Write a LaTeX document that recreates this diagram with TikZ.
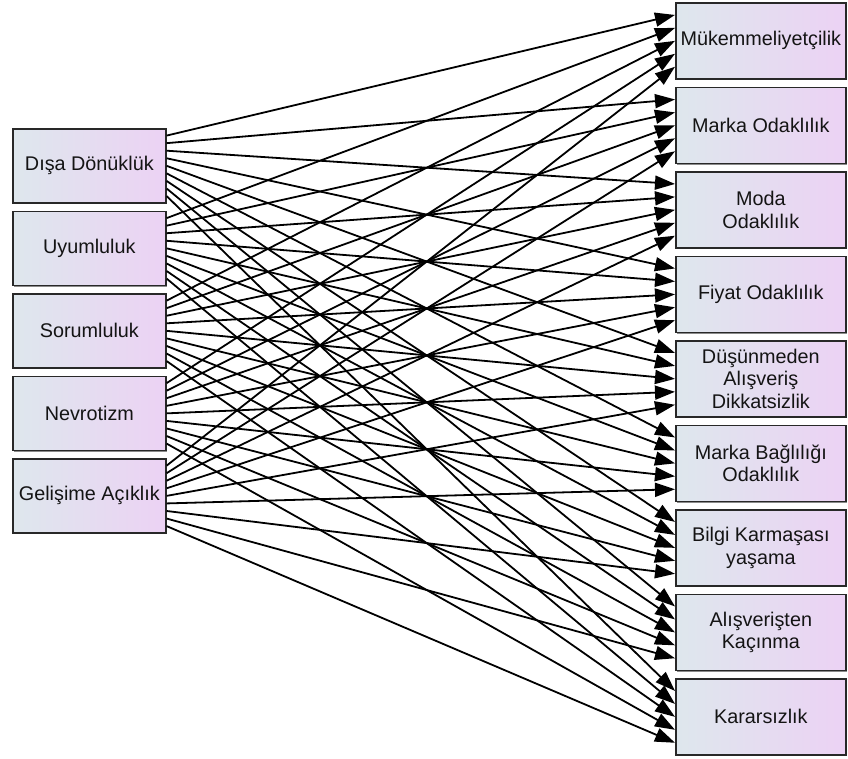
\documentclass[tikz,border=0pt]{standalone}
\usepackage{fontspec}
\setmainfont{Liberation Sans}
\usetikzlibrary{arrows.meta,calc,shadows}

\definecolor{boxleft}{RGB}{222,231,237}
\definecolor{boxright}{RGB}{236,210,244}
\definecolor{boxedge}{RGB}{40,40,40}
\definecolor{boxshade}{RGB}{110,110,110}

\tikzset{
  trait/.style={draw=boxedge, line width=1.7pt, left color=boxleft, right color=boxright,
    shading angle=90, minimum width=153pt, minimum height=74pt, anchor=north west,
    align=center, inner sep=1pt, text=black!92,
    font=\fontsize{19.8}{22.5}\selectfont,
    drop shadow={shadow xshift=1.2pt, shadow yshift=-1.2pt, fill=boxshade, opacity=0.8}},
  outcome/.style={trait, minimum width=170pt, minimum height=76pt},
  conn/.style={line width=1.8pt, -{Triangle[length=20pt,width=14pt]}},
}

\begin{document}
\begin{tikzpicture}[x=1pt,y=-1pt]
\useasboundingbox (0,0) rectangle (848,758);

% personality traits (left column)
\node[trait] (L1) at (12,128)   {Dışa Dönüklük};
\node[trait] (L2) at (12,210.5) {Uyumluluk};
\node[trait] (L3) at (12,293)   {Sorumluluk};
\node[trait] (L4) at (12,375.5) {Nevrotizm};
\node[trait] (L5) at (12,458)   {Gelişime Açıklık};

% decision-making styles (right column)
\node[outcome] (R1) at (675,2)     {Mükemmeliyetçilik};
\node[outcome] (R2) at (675,86.5)  {Marka Odaklılık};
\node[outcome] (R3) at (675,171)   {Moda\\Odaklılık};
\node[outcome] (R4) at (675,255.5) {Fiyat Odaklılık};
\node[outcome] (R5) at (675,340)   {Düşünmeden\\Alışveriş\\Dikkatsizlik};
\node[outcome] (R6) at (675,424.5) {Marka Bağlılığı\\Odaklılık};
\node[outcome] (R7) at (675,509)   {Bilgi Karmaşası\\yaşama};
\node[outcome] (R8) at (675,593.5) {Alışverişten\\Kaçınma};
\node[outcome] (R9) at (675,678)   {Kararsızlık};

% every trait points to every style, ports spread along the box sides
\foreach \i in {1,...,5} {
  \foreach \j in {1,...,9} {
    \draw[conn] ($(L\i.north east)!\j/10!(L\i.south east)$)
             -- ($(R\j.north west)!\i/6!(R\j.south west)$);
  }
}
\end{tikzpicture}
\end{document}
